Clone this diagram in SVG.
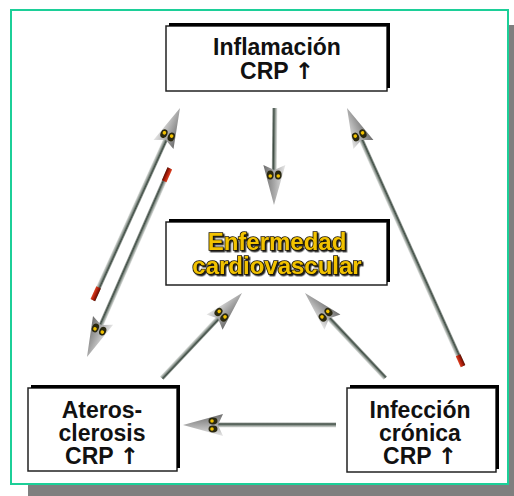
<svg xmlns="http://www.w3.org/2000/svg" xmlns:xlink="http://www.w3.org/1999/xlink" width="514" height="496" viewBox="0 0 514 496">
<style>
.box{fill:#fff;stroke:#222;stroke-width:1.5}
.edge{fill:none;stroke:#000;stroke-width:3}
.t{font-family:"Liberation Sans",Arial,sans-serif;font-weight:bold;font-size:23px;fill:#111;text-anchor:middle}
.arr{font-family:"DejaVu Sans",sans-serif;font-weight:bold;fill:#111}
.y{font-family:"Liberation Sans",Arial,sans-serif;font-weight:bold;font-size:24px;text-anchor:middle;fill:#f2c200;stroke:#1a1400;stroke-width:1.6;paint-order:stroke}
.shaft{fill:url(#sg)}
.red{fill:url(#rg)}
</style>
<defs>
<filter id="ds" x="-10%" y="-30%" width="120%" height="160%">
<feDropShadow dx="1.5" dy="1.5" stdDeviation="0.4" flood-color="#222" flood-opacity="1"/>
</filter>
<linearGradient id="sg" x1="0" y1="0" x2="0" y2="1">
<stop offset="0" stop-color="#e4e6e4"/>
<stop offset="0.35" stop-color="#9aa29c"/>
<stop offset="0.7" stop-color="#3f4d44"/>
<stop offset="1" stop-color="#a7aca8"/>
</linearGradient>
<linearGradient id="rg" x1="0" y1="0" x2="0" y2="1">
<stop offset="0" stop-color="#e04020"/>
<stop offset="0.6" stop-color="#a01808"/>
<stop offset="1" stop-color="#601000"/>
</linearGradient>
<linearGradient id="hg" x1="0" y1="0" x2="0" y2="1">
<stop offset="0" stop-color="#e6e6e6"/>
<stop offset="0.5" stop-color="#a8a8a8"/>
<stop offset="1" stop-color="#6e6e6e"/>
</linearGradient>
<g id="head">
<polygon points="0,0 -40,-11 -35,0 -40,11" fill="url(#hg)"/>
<ellipse cx="-30" cy="-4" rx="4.5" ry="3.4" fill="#2a2810"/>
<ellipse cx="-30" cy="4" rx="4.5" ry="3.4" fill="#2a2810"/>
<circle cx="-29" cy="-4" r="1.8" fill="#f0c000"/>
<circle cx="-29" cy="4" r="1.8" fill="#f0c000"/>
</g>
</defs>

<!-- frame and shadow -->
<rect x="28" y="484" width="486" height="12" fill="#7f7f7f"/>
<rect x="509" y="25" width="5" height="471" fill="#7f7f7f"/>
<rect x="11" y="10" width="497" height="474" fill="#fff" stroke="#1ccf98" stroke-width="2"/>

<g id="connectors">
<!-- Inflamacion -> Enfermedad -->
<g transform="translate(274,205) rotate(90.5)">
<rect class="shaft" x="-97" y="-2.5" width="70" height="5"/>
<use xlink:href="#head"/>
</g>
<!-- Aterosclerosis -> Inflamacion -->
<g transform="translate(180,108) rotate(-65.6)">
<rect class="shaft" x="-211" y="-2.5" width="181" height="5"/>
<rect class="red" x="-211" y="-2.5" width="14" height="5"/>
<use xlink:href="#head"/>
</g>
<!-- Inflamacion -> Aterosclerosis -->
<g transform="translate(87,357) rotate(113.7)">
<rect class="shaft" x="-206" y="-2.5" width="176" height="5"/>
<rect class="red" x="-206" y="-2.5" width="14" height="5"/>
<use xlink:href="#head"/>
</g>
<!-- Infeccion -> Inflamacion -->
<g transform="translate(347,108) rotate(-114.2)">
<rect class="shaft" x="-283" y="-2.5" width="253" height="5"/>
<rect class="red" x="-283" y="-2.5" width="12" height="5"/>
<use xlink:href="#head"/>
</g>
<!-- Aterosclerosis -> Enfermedad -->
<g transform="translate(242,293) rotate(-46.7)">
<rect class="shaft" x="-117" y="-2.5" width="87" height="5"/>
<use xlink:href="#head"/>
</g>
<!-- Infeccion -> Enfermedad -->
<g transform="translate(305,293) rotate(-133.3)">
<rect class="shaft" x="-117" y="-2.5" width="87" height="5"/>
<use xlink:href="#head"/>
</g>
<!-- Infeccion -> Aterosclerosis -->
<g transform="translate(183,425) rotate(180)">
<rect class="shaft" x="-153" y="-2.5" width="123" height="5"/>
<use xlink:href="#head"/>
</g>
</g>

<g id="inflamacion">
<rect class="box" x="166" y="26" width="221" height="65"/>
<path class="edge" d="M169,24.5 H388.5 V88"/>
<text class="t" x="277" y="55">Inflamación</text>
<text class="t" x="277" y="79">CRP <tspan class="arr">↑</tspan></text>
</g>

<g id="enfermedad">
<rect class="box" x="166" y="222" width="221" height="63"/>
<path class="edge" d="M169,220.5 H388.5 V282"/>
<text class="y" x="277" y="250" filter="url(#ds)">Enfermedad</text>
<text class="y" x="277" y="274" filter="url(#ds)">cardiovascular</text>
</g>

<g id="aterosclerosis">
<rect class="box" x="28" y="388" width="149" height="83"/>
<path class="edge" d="M31,386.5 H178.5 V468"/>
<text class="t" x="102" y="418">Ateros-</text>
<text class="t" x="102" y="441">clerosis</text>
<text class="t" x="102" y="464">CRP <tspan class="arr">↑</tspan></text>
</g>

<g id="infeccion">
<rect class="box" x="347" y="388" width="149" height="84"/>
<path class="edge" d="M350,386.5 H497.5 V469"/>
<text class="t" x="420" y="418">Infección</text>
<text class="t" x="420" y="441">crónica</text>
<text class="t" x="420" y="464">CRP <tspan class="arr">↑</tspan></text>
</g>
</svg>
